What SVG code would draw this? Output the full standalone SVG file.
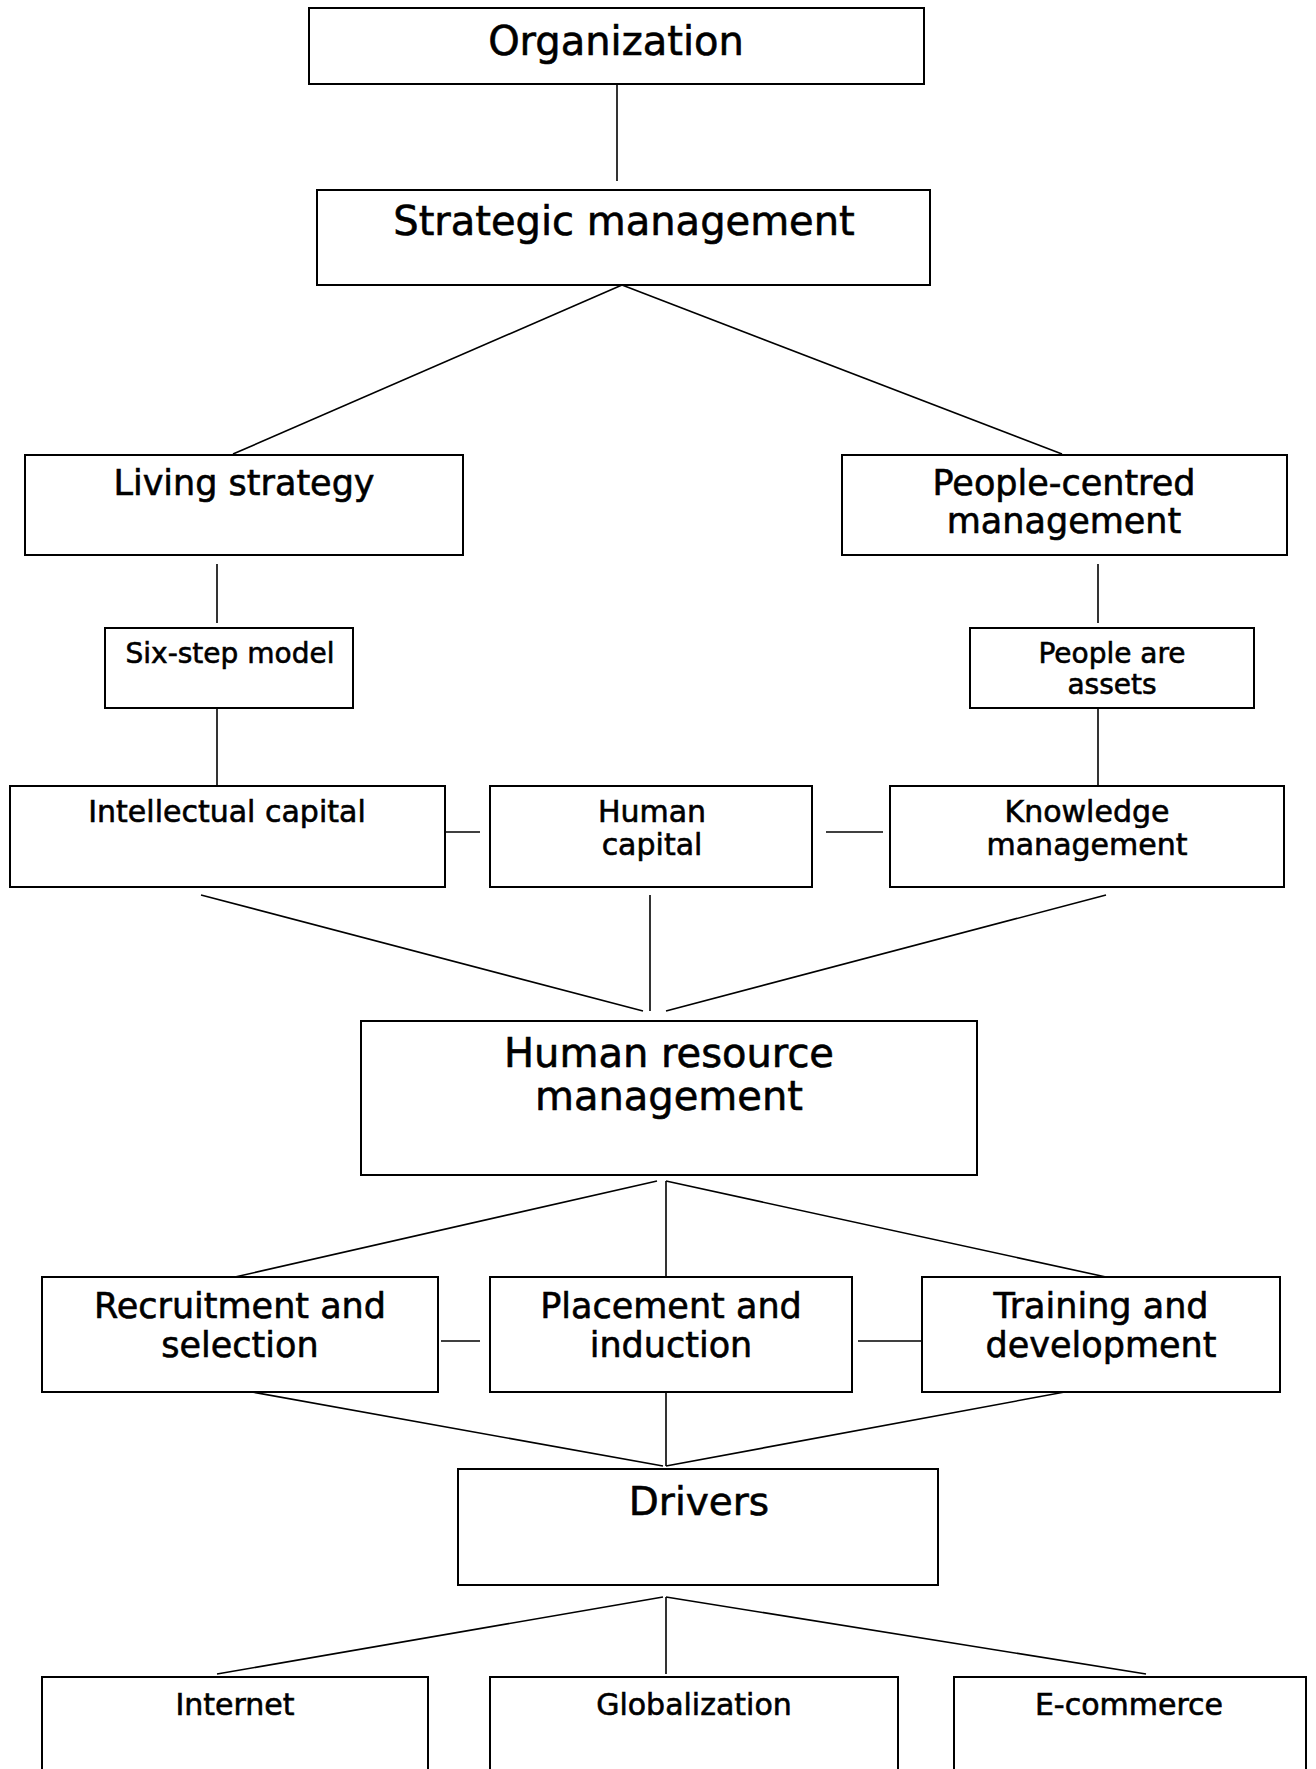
<svg xmlns="http://www.w3.org/2000/svg" width="1316" height="1769" viewBox="0 0 1316 1769">
<style>
rect{fill:#fff;stroke:#000;stroke-width:2}
text{font-family:"DejaVu Sans",sans-serif;fill:#000;stroke:#000;stroke-width:0.6;text-anchor:middle}
.t1{font-size:40px}
.t2{font-size:35px}
.t3{font-size:30px}
.t4{font-size:28px}
#connectors line{stroke:#000;stroke-width:1.6}
</style>
<rect x="0" y="0" width="1316" height="1769" style="fill:#fff;stroke:none"/>
<g id="connectors">
<line x1="617" y1="84" x2="617" y2="181"/>
<line x1="622" y1="285" x2="233" y2="454"/>
<line x1="622" y1="285" x2="1062" y2="454"/>
<line x1="217" y1="564" x2="217" y2="623"/>
<line x1="217" y1="707" x2="217" y2="786"/>
<line x1="1098" y1="564" x2="1098" y2="623"/>
<line x1="1098" y1="707" x2="1098" y2="786"/>
<line x1="441" y1="832" x2="480" y2="832"/>
<line x1="826" y1="832" x2="883" y2="832"/>
<line x1="201" y1="895" x2="643" y2="1011"/>
<line x1="650" y1="895" x2="650" y2="1011"/>
<line x1="1106" y1="895" x2="666" y2="1011"/>
<line x1="657" y1="1181" x2="235" y2="1277"/>
<line x1="666" y1="1181" x2="666" y2="1277"/>
<line x1="666" y1="1181" x2="1106" y2="1277"/>
<line x1="441" y1="1341" x2="480" y2="1341"/>
<line x1="858" y1="1341" x2="922" y2="1341"/>
<line x1="235" y1="1389" x2="663" y2="1466"/>
<line x1="666" y1="1389" x2="666" y2="1466"/>
<line x1="1081" y1="1389" x2="666" y2="1466"/>
<line x1="663" y1="1597" x2="217" y2="1674"/>
<line x1="666" y1="1597" x2="666" y2="1674"/>
<line x1="666" y1="1597" x2="1146" y2="1674"/>
</g>
<g id="organization"><rect x="309" y="8" width="615" height="76"/><text class="t1" x="616" y="55">Organization</text></g>
<g id="strategic-management"><rect x="317" y="190" width="613" height="95"/><text class="t1" x="624" y="235">Strategic management</text></g>
<g id="living-strategy"><rect x="25" y="455" width="438" height="100"/><text class="t2" x="244" y="495">Living strategy</text></g>
<g id="people-centred"><rect x="842" y="455" width="445" height="100"/><text class="t2" x="1064" y="495">People-centred</text><text class="t2" x="1064" y="533">management</text></g>
<g id="six-step"><rect x="105" y="628" width="248" height="80"/><text class="t4" x="230" y="663">Six-step model</text></g>
<g id="people-assets"><rect x="970" y="628" width="284" height="80"/><text class="t4" x="1112" y="663">People are</text><text class="t4" x="1112" y="694">assets</text></g>
<g id="intellectual-capital"><rect x="10" y="786" width="435" height="101"/><text class="t3" x="227" y="822">Intellectual capital</text></g>
<g id="human-capital"><rect x="490" y="786" width="322" height="101"/><text class="t3" x="652" y="822">Human</text><text class="t3" x="652" y="855">capital</text></g>
<g id="knowledge-management"><rect x="890" y="786" width="394" height="101"/><text class="t3" x="1087" y="822">Knowledge</text><text class="t3" x="1087" y="855">management</text></g>
<g id="hrm"><rect x="361" y="1021" width="616" height="154"/><text class="t1" x="669" y="1067">Human resource</text><text class="t1" x="669" y="1110">management</text></g>
<g id="recruitment"><rect x="42" y="1277" width="396" height="115"/><text class="t2" x="240" y="1318">Recruitment and</text><text class="t2" x="240" y="1357">selection</text></g>
<g id="placement"><rect x="490" y="1277" width="362" height="115"/><text class="t2" x="671" y="1318">Placement and</text><text class="t2" x="671" y="1357">induction</text></g>
<g id="training"><rect x="922" y="1277" width="358" height="115"/><text class="t2" x="1101" y="1318">Training and</text><text class="t2" x="1101" y="1357">development</text></g>
<g id="drivers"><rect x="458" y="1469" width="480" height="116"/><text style="font-size:39px" x="699" y="1515">Drivers</text></g>
<g id="internet"><rect x="42" y="1677" width="386" height="110"/><text class="t3" x="235" y="1715">Internet</text></g>
<g id="globalization"><rect x="490" y="1677" width="408" height="110"/><text class="t3" x="694" y="1715">Globalization</text></g>
<g id="e-commerce"><rect x="954" y="1677" width="352" height="110"/><text class="t3" x="1129" y="1715">E-commerce</text></g>
</svg>
